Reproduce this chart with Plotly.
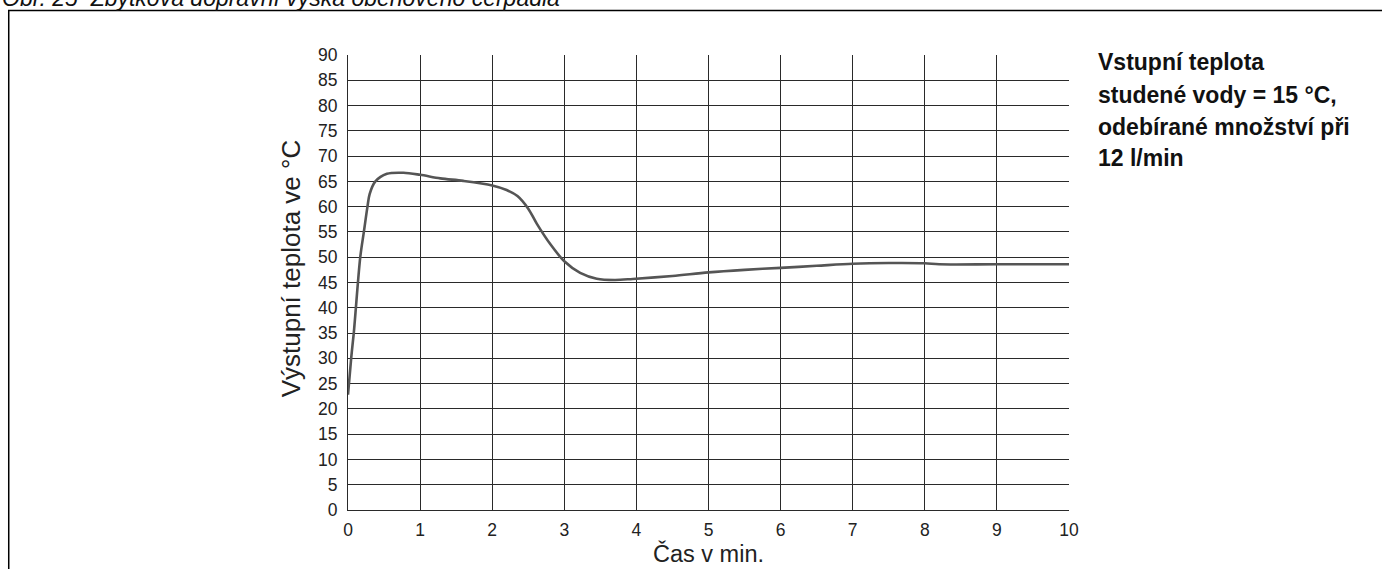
import plotly.graph_objects as go

# Data
time_min = [0, 0.044, 0.08, 0.17, 0.22, 0.27, 0.30, 0.38, 0.54, 0.77, 1.0, 1.28, 1.6, 2.0,
            2.2, 2.35, 2.5, 2.62, 2.81, 3.0, 3.22, 3.45, 3.7, 3.95, 4.5, 5.0, 5.5, 6.0,
            6.5, 7.0, 7.5, 8.0, 8.2, 9.0, 10.0]
temp_c = [22.8, 30, 35, 50, 55, 60, 62.5, 65, 66.5, 66.7, 66.3, 65.6, 65.1, 64.2,
          63.3, 62.1, 59.6, 56.6, 52.5, 49.2, 46.9, 45.75, 45.5, 45.7, 46.3, 47.0, 47.5, 47.9,
          48.3, 48.7, 48.85, 48.8, 48.6, 48.6, 48.6]

x_ticks = list(range(0, 11))
y_ticks = list(range(0, 91, 5))

x_title = "Čas v min."
y_title = "Výstupní teplota ve °C"
note_lines = ["Vstupní teplota", "studené vody = 15 °C,", "odebírané množství při", "12 l/min"]
caption = "Obr. 25  Zbytková dopravní výška oběhového čerpadla"

OFF = 0  # body margin removed by post_script
W, H = 1382 - OFF, 569 - OFF
# plot area in reference screen pixels
X0, X1, Y0, Y1 = 347.5, 1069, 55, 514.7
L, R, T, B = X0 - OFF, W - (X1 - OFF), Y0 - OFF, H - (Y1 - OFF)
pw, ph = W - L - R, H - T - B

def px(xs):
    return (xs - OFF - L) / pw

def py(ys):
    return (H - B - (ys - OFF)) / ph

FONT = "Liberation Sans, Arial, sans-serif"

fig = go.Figure()
fig.add_trace(go.Scatter(
    x=time_min, y=temp_c, mode="lines",
    line=dict(color="#555555", width=2.6, shape="spline", smoothing=0.9),
    showlegend=False, hoverinfo="skip",
))

fig.update_xaxes(
    range=[0, 10], tickvals=x_ticks, ticktext=[str(v) for v in x_ticks],
    showgrid=True, gridcolor="#2a2a2a", gridwidth=1,
    showline=True, linecolor="#2a2a2a", linewidth=1.2,
    zeroline=False, ticks="", ticklabelstandoff=4,
    tickfont=dict(family=FONT, size=17.5, color="#222"),
    title=dict(text=x_title, font=dict(family=FONT, size=23.5, color="#222"), standoff=0),
)
fig.update_yaxes(
    range=[0, 90], tickvals=y_ticks, ticktext=[str(v) for v in y_ticks],
    showgrid=True, gridcolor="#2a2a2a", gridwidth=1,
    showline=True, linecolor="#2a2a2a", linewidth=1.2,
    zeroline=False, ticks="", ticklabelstandoff=6,
    tickfont=dict(family=FONT, size=17.5, color="#222"),
)

# y axis title (as annotation for exact placement)
fig.add_annotation(text=y_title, xref="paper", yref="paper",
                   x=px(290), y=py(271), xanchor="center", yanchor="middle",
                   textangle=-90, showarrow=False,
                   font=dict(family=FONT, size=26, color="#222"))

# frame around the figure
fig.add_shape(type="rect", xref="paper", yref="paper",
              x0=px(8), x1=px(1420), y0=py(10), y1=py(620),
              line=dict(color="black", width=1.5), fillcolor="rgba(0,0,0,0)", layer="below")

# side note (bold, four lines)
centers = [62, 95, 128, 159]
for txt, yc in zip(note_lines, centers):
    fig.add_annotation(text=f"<b>{txt}</b>", xref="paper", yref="paper",
                       x=px(1096), y=py(yc), xanchor="left", yanchor="middle",
                       showarrow=False, font=dict(family=FONT, size=23, color="#111"))

# caption, cut by the top edge
fig.add_annotation(text=f"<i>{caption}</i>", xref="paper", yref="paper",
                   x=px(-1), y=py(-2.5), xanchor="left", yanchor="middle",
                   showarrow=False, font=dict(family=FONT, size=23, color="#111"))

fig.update_layout(
    width=W, height=H,
    margin=dict(l=L, r=R, t=T, b=B),
    plot_bgcolor="white", paper_bgcolor="white",
)

fig.write_html("out.html", config={"displayModeBar": False},
               post_script="document.body.style.margin='0';document.body.style.overflow='hidden';")
